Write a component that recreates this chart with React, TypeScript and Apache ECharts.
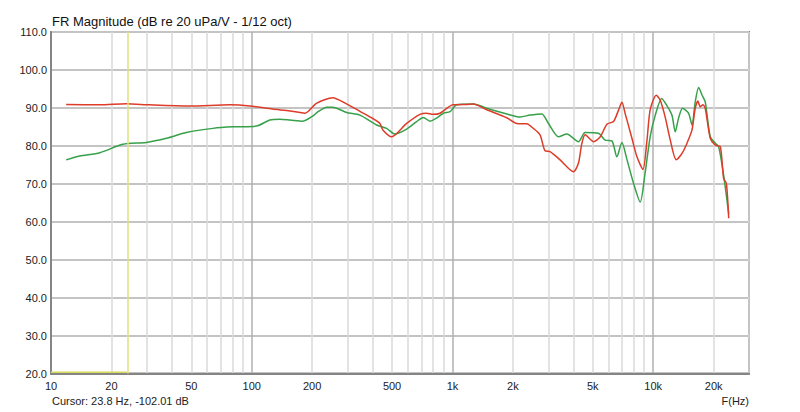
import React, { useEffect, useRef } from 'react';
import * as echarts from 'echarts';

// Frequency response data (Hz, dB)
const redFreq = [11.9, 17.5, 23.7, 31, 49, 78, 98, 127, 155, 184, 210, 253, 298, 346, 401, 435, 450, 498, 591, 689, 743, 800, 867, 1005, 1178, 1271, 1483, 1864, 2090, 2345, 2529, 2730, 2892, 3063, 3436, 4006, 4240, 4406, 4580, 5040, 5448, 5880, 6340, 6716, 6982, 7250, 7832, 8296, 8890, 9310, 9663, 10355, 10840, 11480, 12160, 13030, 13910, 14730, 15600, 16190, 16700, 17140, 17690, 18160, 19240, 20380, 21590, 22420, 23140, 23770];
const redDb = [90.9, 90.8, 91.1, 90.8, 90.5, 90.8, 90.5, 89.7, 89.2, 88.6, 91.2, 92.7, 91.0, 89.1, 87.2, 85.9, 84.2, 82.4, 85.9, 88.3, 88.6, 88.3, 88.6, 90.8, 90.9, 91.0, 89.5, 87.4, 85.9, 85.8, 84.6, 82.9, 78.7, 78.5, 76.3, 73.2, 75.4, 80.5, 82.9, 81.1, 82.4, 85.7, 86.4, 89.4, 91.5, 88.5, 82.0, 77.1, 73.8, 81.5, 89.6, 93.3, 92.0, 87.5, 81.5, 76.3, 78.0, 80.7, 84.2, 89.9, 91.8, 90.3, 90.8, 89.9, 82.0, 80.2, 79.8, 71.4, 70.1, 60.9];

const greenFreq = [11.9, 13.9, 17.5, 22.8, 29.8, 37.6, 47.2, 64.1, 80.7, 105.5, 123, 138, 155, 180, 202, 214, 236, 253, 297, 346, 419, 470, 517, 591, 663, 715, 773, 834, 900, 972, 1050, 1271, 1483, 1864, 2172, 2436, 2785, 3006, 3373, 3714, 4240, 4580, 5335, 5765, 6224, 6593, 6982, 7390, 7980, 8610, 9120, 9663, 10240, 11020, 11700, 12390, 12880, 13370, 14000, 14990, 15600, 16190, 16830, 17500, 18160, 19240, 20380, 21180, 22420, 23770];
const greenDb = [76.3, 77.3, 78.2, 80.4, 80.9, 82.0, 83.5, 84.6, 85.0, 85.2, 86.8, 87.0, 86.8, 86.5, 87.9, 89.0, 90.2, 90.2, 88.8, 88.1, 85.5, 84.6, 83.1, 84.4, 86.4, 87.5, 86.5, 87.3, 88.6, 89.0, 90.8, 91.0, 89.9, 88.4, 87.6, 88.1, 88.4, 85.9, 82.4, 83.1, 81.1, 83.5, 83.3, 81.5, 81.3, 77.1, 80.9, 76.5, 70.1, 65.2, 73.0, 82.5, 88.1, 92.5, 90.6, 88.1, 83.7, 87.3, 89.9, 88.6, 85.5, 91.6, 95.4, 93.4, 91.6, 82.4, 80.7, 79.8, 72.3, 62.1];

// Cursor trace (clipped at bottom of the plot)
const cursorFreq = [10, 23.8];
const cursorDb = [20.3, 20.3];
const cursorMarkerFreq = 23.8;

const xLabelTicks = [10, 20, 50, 100, 200, 500, 1000, 2000, 5000, 10000, 20000];
const xGridTicks = [10, 20, 30, 40, 50, 60, 70, 80, 90, 100, 200, 300, 400, 500, 600, 700, 800, 900, 1000, 2000, 3000, 4000, 5000, 6000, 7000, 8000, 9000, 10000, 20000, 30000];
const fMin = 10;
const fMax = 30000;
const yMin = 20;
const yMax = 110;
const yStep = 10;

const titleText = 'FR Magnitude (dB re 20 uPa/V - 1/12 oct)';
const cursorText = 'Cursor: 23.8 Hz, -102.01 dB';
const xAxisName = 'F(Hz)';

const FONT = '"Liberation Sans", Arial, sans-serif';

function toPairs(f: number[], d: number[]) {
  return f.map((v, i) => [Math.log10(v), d[i]]);
}

function fmtFreq(v: number) {
  const f = Math.round(Math.pow(10, v));
  return f >= 1000 ? f / 1000 + 'k' : String(f);
}

export default function App() {
  const ref = useRef<HTMLDivElement>(null);
  useEffect(() => {
    if (!ref.current) return;
    const chart = echarts.init(ref.current, null, { renderer: 'svg' });
    const minorColor = '#dadada';
    const majorColor = '#b0b0b0';
    chart.setOption({
      animation: false,
      backgroundColor: '#ffffff',
      grid: {
        left: 51,
        right: 51,
        top: 32,
        bottom: 38.5,
        show: true,
        borderColor: '#858585',
        borderWidth: 2,
        backgroundColor: 'transparent',
      },
      xAxis: {
        type: 'value',
        min: Math.log10(fMin),
        max: Math.log10(fMax),
        axisLine: { show: true, lineStyle: { color: '#858585', width: 2 } },
        axisTick: { show: false, customValues: xGridTicks.map((f) => Math.log10(f)) },
        splitLine: {
          show: true,
          lineStyle: {
            color: [majorColor, minorColor, minorColor, minorColor, minorColor, minorColor, minorColor, minorColor, minorColor],
            width: 1.5,
          },
        },
        axisLabel: {
          customValues: xLabelTicks.map((f) => Math.log10(f)),
          formatter: (v: number) => fmtFreq(v),
          fontSize: 11,
          fontFamily: FONT,
          color: '#222',
          margin: 7,
        },
      },
      yAxis: {
        type: 'value',
        min: yMin,
        max: yMax,
        interval: yStep,
        axisLine: { show: true, lineStyle: { color: '#858585', width: 2 } },
        axisTick: { show: false },
        splitLine: { show: true, lineStyle: { color: '#c4c4c4', width: 2 } },
        axisLabel: {
          formatter: (v: number) => v.toFixed(1),
          fontSize: 11,
          fontFamily: FONT,
          color: '#222',
          margin: 4,
        },
      },
      graphic: [
        {
          type: 'text',
          left: 52,
          top: 15,
          style: { text: titleText, font: `13px ${FONT}`, fill: '#111' },
        },
        {
          type: 'text',
          left: 52,
          top: 395,
          style: { text: cursorText, font: `11px ${FONT}`, fill: '#222' },
        },
        {
          type: 'text',
          right: 51,
          top: 395,
          style: { text: xAxisName, font: `11px ${FONT}`, fill: '#222' },
        },
      ],
      series: [
        {
          type: 'line',
          name: 'cursor',
          data: toPairs(cursorFreq, cursorDb),
          symbol: 'none',
          lineStyle: { color: '#d8d85a', width: 1.5 },
          markLine: {
            silent: true,
            symbol: 'none',
            label: { show: false },
            lineStyle: { color: '#e2e27a', width: 1.5, type: 'solid' },
            data: [{ xAxis: Math.log10(cursorMarkerFreq) }],
          },
        },
        {
          type: 'line',
          name: 'green',
          data: toPairs(greenFreq, greenDb),
          symbol: 'none',
          smooth: 0.25,
          lineStyle: { color: '#36a04a', width: 1.5 },
        },
        {
          type: 'line',
          name: 'red',
          data: toPairs(redFreq, redDb),
          symbol: 'none',
          smooth: 0.25,
          lineStyle: { color: '#dc3c28', width: 1.5 },
        },
      ],
    });
    return () => chart.dispose();
  }, []);
  return (
    <div
      ref={ref}
      style={{ position: 'fixed', left: 0, top: 0, width: 800, height: 412, background: '#fff' }}
    />
  );
}
